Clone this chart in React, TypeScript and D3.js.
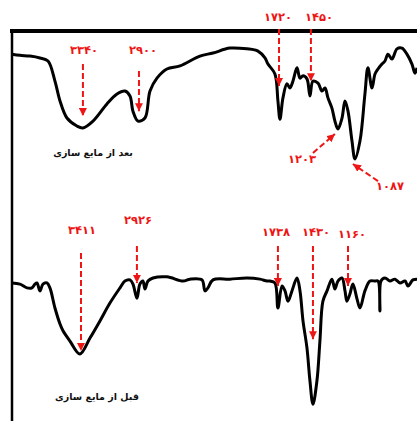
import { useEffect, useRef } from 'react';
import * as d3 from 'd3';

// FTIR spectra: wavenumber (cm-1) vs transmittance (%, arbitrary offset per trace)
const afterWn = [3933, 3867, 3783, 3700, 3633, 3575, 3533, 3475, 3392, 3342, 3258, 3142, 3058, 2992, 2950, 2925, 2883, 2825, 2783, 2725, 2642, 2533, 2367, 2258, 2117, 1975, 1883, 1825, 1800, 1742, 1717, 1700, 1675, 1642, 1617, 1592, 1558, 1533, 1508, 1475, 1450, 1425, 1383, 1350, 1325, 1300, 1267, 1242, 1217, 1183, 1158, 1133, 1100, 1075, 1033, 992, 967, 933, 908, 883, 850, 825, 800, 767, 725, 683, 642, 600, 575, 558];
const afterT = [93.9, 93.6, 93.4, 92.9, 92.1, 86.8, 81.6, 77.1, 75.0, 74.5, 76.3, 80.8, 83.4, 84.2, 82.9, 78.9, 76.3, 77.1, 84.2, 87.6, 90.0, 90.8, 93.4, 94.2, 95.5, 95.3, 94.7, 92.9, 91.3, 88.7, 81.6, 76.8, 82.4, 86.1, 85.0, 86.8, 90.3, 87.6, 88.2, 87.4, 82.9, 86.8, 86.3, 84.2, 85.0, 82.4, 79.7, 76.3, 74.2, 77.1, 81.6, 78.9, 71.1, 66.3, 71.1, 83.4, 90.3, 85.0, 88.7, 90.0, 91.3, 92.1, 93.9, 92.6, 95.3, 95.5, 93.9, 91.3, 88.9, 90.3];

const beforeWn = [3933, 3867, 3808, 3767, 3742, 3725, 3700, 3675, 3642, 3617, 3575, 3533, 3508, 3450, 3367, 3283, 3200, 3117, 3033, 2992, 2950, 2925, 2892, 2867, 2842, 2825, 2800, 2758, 2642, 2508, 2450, 2350, 2325, 2300, 2258, 2117, 1975, 1867, 1808, 1783, 1742, 1717, 1683, 1658, 1633, 1600, 1558, 1533, 1508, 1475, 1450, 1425, 1392, 1367, 1342, 1308, 1267, 1242, 1217, 1183, 1158, 1142, 1117, 1092, 1058, 1033, 992, 950, 908, 883, 867, 858, 825, 783, 742, 700, 658, 633, 592, 558];
const beforeT = [33.7, 33.4, 32.4, 32.4, 33.4, 33.7, 31.6, 33.4, 33.7, 32.4, 27.1, 22.9, 21.1, 18.4, 15.0, 19.2, 23.7, 28.4, 32.4, 34.2, 34.5, 33.4, 29.7, 33.4, 34.2, 32.1, 34.2, 35.0, 35.3, 34.2, 34.7, 34.5, 31.6, 32.4, 34.5, 34.7, 35.0, 34.7, 34.2, 34.2, 33.7, 27.1, 32.9, 31.6, 28.9, 31.6, 35.0, 31.6, 23.7, 16.6, 7.9, 1.8, 7.9, 18.4, 28.9, 31.6, 34.7, 32.1, 34.2, 35.0, 31.6, 28.9, 30.8, 33.4, 29.5, 27.1, 31.6, 34.2, 34.2, 34.2, 26.3, 34.2, 35.0, 34.2, 34.7, 33.7, 34.2, 32.9, 34.5, 34.7];

// peak annotations: label text, label anchor (wn, T), arrow from (wn, T) to (wn, T)
const afterPeaks = [
  { label: '۳۳۴۰', lw: 3333, lt: 93.9, x1: 3342, y1: 91.3, x2: 3342, y2: 77.6 },
  { label: '۲۹۰۰', lw: 2842, lt: 93.9, x1: 2875, y1: 89.5, x2: 2875, y2: 78.9 },
  { label: '۱۷۲۰', lw: 1717, lt: 102.6, x1: 1708, y1: 100.5, x2: 1708, y2: 85.5 },
  { label: '۱۴۵۰', lw: 1375, lt: 102.6, x1: 1442, y1: 100.5, x2: 1442, y2: 86.8 },
  { label: '۱۲۰۳', lw: 1517, lt: 65.3, x1: 1425, y1: 67.9, x2: 1242, y2: 72.9 },
  { label: '۱۰۸۷', lw: 783, lt: 58.2, x1: 883, y1: 60.5, x2: 1092, y2: 65.0 },
];
const beforePeaks = [
  { label: '۳۴۱۱', lw: 3350, lt: 46.6, x1: 3358, y1: 41.6, x2: 3358, y2: 15.8 },
  { label: '۲۹۲۶', lw: 2883, lt: 49.2, x1: 2892, y1: 43.4, x2: 2892, y2: 33.7 },
  { label: '۱۷۳۸', lw: 1733, lt: 46.1, x1: 1717, y1: 43.4, x2: 1717, y2: 32.9 },
  { label: '۱۴۳۰', lw: 1400, lt: 46.1, x1: 1425, y1: 43.4, x2: 1425, y2: 18.9 },
  { label: '۱۱۶۰', lw: 1100, lt: 45.5, x1: 1133, y1: 43.4, x2: 1133, y2: 32.9 },
];

const titles = [
  { text: 'بعد از مایع سازی', wn: 3258, t: 67.1 },
  { text: 'قبل از مایع سازی', wn: 3225, t: 2.9 },
];

const W = 417;
const H = 421;
const RED = '#ee1515';

export default function App() {
  const svgRef = useRef<SVGSVGElement>(null);

  useEffect(() => {
    const svg = d3.select(svgRef.current);
    svg.selectAll('*').remove();

    const x = d3.scaleLinear().domain([3933, 558]).range([12, 417]);
    const y = d3.scaleLinear().domain([0, 100]).range([411, 31]);

    svg.append('defs').append('marker')
      .attr('id', 'head').attr('viewBox', '0 0 10 10')
      .attr('refX', 10).attr('refY', 5)
      .attr('markerWidth', 8).attr('markerHeight', 8)
      .attr('markerUnits', 'userSpaceOnUse').attr('orient', 'auto')
      .append('path').attr('d', 'M0,0 L10,5 L0,10 Z').attr('fill', RED);

    // frame
    svg.append('line')
      .attr('x1', 10).attr('x2', W).attr('y1', y(100)).attr('y2', y(100))
      .attr('stroke', '#000').attr('stroke-width', 4);
    svg.append('line')
      .attr('x1', x(3933)).attr('x2', x(3933)).attr('y1', y(100)).attr('y2', H)
      .attr('stroke', '#000').attr('stroke-width', 2.5);

    const line = d3.line<[number, number]>()
      .x(d => x(d[0])).y(d => y(d[1]))
      .curve(d3.curveCatmullRom.alpha(0.5));

    [[afterWn, afterT], [beforeWn, beforeT]].forEach(([wn, t]) => {
      svg.append('path')
        .attr('d', line(wn.map((w, i) => [w, t[i]] as [number, number])))
        .attr('fill', 'none').attr('stroke', '#000')
        .attr('stroke-width', 3).attr('stroke-linejoin', 'round');
    });

    const peaks = [...afterPeaks, ...beforePeaks];
    svg.selectAll('line.arrow').data(peaks).enter().append('line')
      .attr('class', 'arrow')
      .attr('x1', d => x(d.x1)).attr('y1', d => y(d.y1))
      .attr('x2', d => x(d.x2)).attr('y2', d => y(d.y2))
      .attr('stroke', RED).attr('stroke-width', 2)
      .attr('stroke-dasharray', '6,3')
      .attr('marker-end', 'url(#head)');

    svg.selectAll('text.peak').data(peaks).enter().append('text')
      .attr('class', 'peak')
      .attr('x', d => x(d.lw)).attr('y', d => y(d.lt))
      .attr('text-anchor', 'middle')
      .attr('font-family', 'DejaVu Sans, sans-serif')
      .attr('font-size', 11.5).attr('font-weight', 'bold')
      .attr('fill', RED)
      .text(d => d.label);

    svg.selectAll('text.title').data(titles).enter().append('text')
      .attr('class', 'title')
      .attr('x', d => x(d.wn)).attr('y', d => y(d.t))
      .attr('text-anchor', 'middle').attr('direction', 'rtl')
      .attr('font-family', 'DejaVu Sans, sans-serif')
      .attr('font-size', 9.5).attr('font-weight', 'bold')
      .attr('fill', '#111')
      .text(d => d.text);
  }, []);

  return (
    <div style={{ position: 'fixed', left: 0, top: 0, width: W, height: H, background: '#fff' }}>
      <svg ref={svgRef} width={W} height={H} />
    </div>
  );
}
